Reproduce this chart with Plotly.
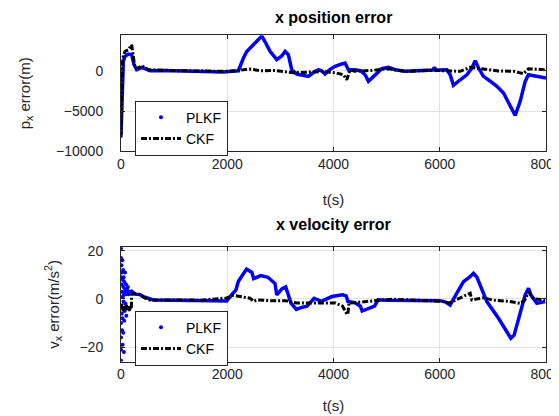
import plotly.graph_objects as go

# x position error, PLKF (blue)
pos_plkf_t = [0, 32, 44, 75, 138, 200, 245, 295, 390, 450, 546, 800, 1100, 1400, 1700, 1927, 2100, 2210,
              2305, 2367, 2492, 2560, 2650, 2720, 2806, 2932, 3020, 3089, 3150, 3214, 3308, 3420, 3527,
              3653, 3720, 3780, 3840, 3930, 4030, 4130, 4218, 4280, 4400, 4510, 4595, 4658, 4752, 4850,
              4909, 5034, 5160, 5348, 5600, 5870, 5900, 5930, 6000, 6133, 6196, 6258, 6380, 6510, 6604,
              6667, 6729, 6823, 6950, 7075, 7200, 7326, 7420, 7514, 7608, 7670, 7766, 7900, 8000]
pos_plkf = [-7940, -1300, 1170, 1790, 2070, 1990, 745, 124, 420, 250, 0, 40, -30, -80, -120, -160, -60, 0,
            1580, 2400, 3230, 3700, 4300, 3500, 2400, 1370, 1800, 2400, 1990, 124, -410, -550, -700,
            -70, 100, 0, -400, 150, 550, 800, 960, 124, 124, 0, -500, -1320, -700, -100,
            250, 420, 124, -70, -30, 100, 420, 50, 100, 124, -500, -1810, -1150, -500, 335,
            1240, 335, -700, -1300, -1940, -2770, -4420, -5540, -3800, -1320, -500, -620, -780, -900]

# x position error, CKF (black)
pos_ckf_t = [0, 25, 32, 75, 138, 200, 264, 327, 390, 515, 800, 1080, 1500, 2020, 2210, 2430, 2618, 2900,
             3250, 3500, 3780, 4030, 4187, 4250, 4313, 4400, 4700, 5030, 5350, 5881, 6258, 6385, 6573,
             6760, 6886, 7100, 7390, 7577, 7670, 7850, 8000]
pos_ckf = [-8300, -1000, 1580, 2400, 2600, 3230, 335, 335, 620, 124, 50, 0, -30, -70, 50, 210, 0, 20,
           -250, -150, -100, -250, -500, -1120, 124, -70, 30, 250, -70, 50, -70, -70, 420,
           250, 124, -20, -70, -370, 250, 200, 124]

# x velocity error, PLKF: scattered start then the track
vel_plkf_noise_t = [0, 0, 0, 0, 0, 0, 0, 0, 8, 12, 15, 18, 20, 22, 25, 28, 30, 33, 35, 38, 40, 42, 45, 48,
                    50, 55, 58, 60, 65, 70, 75, 80, 85, 90, 95, 100, 105, 110, 120, 130, 140, 150]
vel_plkf_noise = [21, 17, 9, -3, -10, -16, -21, -25.5, 14, 6, -6, 11, -13, 3, 16, -8, -19, 8, 1, -4, 12, -14,
                  5, -1, 9, -22, 2, -9, 7, -5, 11, 4, -2, 3, 6, -7, 2, 4, 3, 5, 2, 3]
vel_plkf_t = [170, 200, 263, 358, 420, 514, 608, 1000, 1500, 1990, 2115, 2162, 2210, 2296, 2363, 2464,
              2497, 2631, 2765, 2899, 2932, 3033, 3100, 3200, 3301, 3400, 3501, 3635, 3769, 3970, 4171,
              4238, 4271, 4400, 4506, 4539, 4650, 4773, 4840, 5000, 5500, 6000, 6100, 6196, 6322, 6447,
              6560, 6635, 6700, 6887, 7106, 7263, 7339, 7400, 7483, 7608, 7671, 7720, 7828, 7985]
vel_plkf = [3, 3.2, 2.0, 1.8, 1.0, 0.4, -0.4, -0.5, -0.6, -0.8, 2.5, 3.7, 7.3, 10.4, 12.4, 11,
            8.4, 9.7, 9.0, 6.4, 1.7, 4.3, 5.0, -1.7, -4.3, -3.5, -3.0, 0.3, -1.0, 1.0, 1.7,
            1.3, -1.0, -1.5, -3.0, -5.0, -4.0, -3.0, -0.3, -0.5, -0.6, -0.7, -1.2, -2.5, 2.4, 7.2,
            9.0, 10.6, 9.0, -1.1, -8, -13.5, -16.3, -15, -8, 1.7, 4.4, 1.5, -1.8, -1.1]

# x velocity error, CKF
vel_ckf_t = [0, 20, 40, 60, 80, 100, 120, 140, 160, 180, 195, 200, 263, 358, 450, 514, 1000, 1500, 1990,
             2115, 2300, 2430, 2497, 2556, 2800, 3100, 3301, 3500, 3769, 4037, 4171, 4238, 4271, 4290,
             4439, 4773, 5108, 5778, 6046, 6180, 6380, 6510, 6573, 6604, 6823, 7000, 7265, 7514, 7600,
             7671, 7765, 7985]
vel_ckf = [-4, -2, -5, -3, -5, -2.5, -4.5, -3, -5, -3.5, -4, 1.8, 2.3, 1.8, 0.4, -0.4, -0.4, -0.5, 0.4,
           1.5, 0.8, 0.3, -1.0, -0.4, -0.7, -0.7, -1.7, -1.8, -1.7, -1.7, -3.0, -5.7, -6.4, -1.7,
           -1.4, -0.7, -0.1, -0.7, -1.0, -1.7, 0.3, 1.7, 2.4, -0.4, 0.5, -0.5, -0.9, -1.8, -0.5,
           3.0, 0.1, -0.4]

x_ticks = [0, 2000, 4000, 6000, 8000]
pos_ticks = [-10000, -5000, 0]
vel_ticks = [-20, 0, 20]

# the page body has an 8px margin, so lay out in the visible 551x408 area
OFF = 8
W, H = 559 - OFF, 416 - OFF
BLUE = "#0000ff"
AX = "#262626"
FONT = "Liberation Sans, Arial, sans-serif"
CKF_DASH = "6px,2px,2px,2px"


def px_x(x):
    return (x - OFF) / W


def px_y(y):
    return 1 - (y - OFF) / H


fig = go.Figure()

# top panel
fig.add_trace(go.Scatter(x=pos_plkf_t, y=pos_plkf, mode="lines", line=dict(color=BLUE, width=3.5),
                         showlegend=False, xaxis="x", yaxis="y"))
fig.add_trace(go.Scatter(x=[None], y=[None], mode="markers", name="PLKF", marker=dict(color=BLUE, size=4),
                         legend="legend", xaxis="x", yaxis="y"))
fig.add_trace(go.Scatter(x=pos_ckf_t, y=pos_ckf, mode="lines", name="CKF",
                         line=dict(color="black", width=3, dash=CKF_DASH), legend="legend",
                         xaxis="x", yaxis="y"))

# bottom panel
fig.add_trace(go.Scatter(x=vel_plkf_noise_t, y=vel_plkf_noise, mode="markers", marker=dict(color=BLUE, size=4),
                         showlegend=False, xaxis="x2", yaxis="y2"))
fig.add_trace(go.Scatter(x=vel_plkf_t, y=vel_plkf, mode="lines", line=dict(color=BLUE, width=3.5),
                         showlegend=False, xaxis="x2", yaxis="y2"))
fig.add_trace(go.Scatter(x=[None], y=[None], mode="markers", name="PLKF", marker=dict(color=BLUE, size=4),
                         legend="legend2", xaxis="x2", yaxis="y2"))
fig.add_trace(go.Scatter(x=vel_ckf_t, y=vel_ckf, mode="lines", name="CKF",
                         line=dict(color="black", width=3, dash=CKF_DASH), legend="legend2",
                         xaxis="x2", yaxis="y2"))

xdom = [px_x(121), px_x(546)]
top_dom = [px_y(151.3), px_y(35.3)]
bot_dom = [px_y(361.5), px_y(247.3)]

common_x = dict(range=[0, 8000], tickvals=x_ticks, tickformat="d", showgrid=True, gridcolor="#e3e3e3",
                zeroline=False, showline=True, linecolor=AX, linewidth=1, mirror="ticks", ticks="inside",
                ticklen=4, tickcolor=AX, tickfont=dict(size=14, color=AX), automargin=False,
                ticklabeloverflow="allow")
common_y = dict(showgrid=True, gridcolor="#e3e3e3", zeroline=False, showline=True, linecolor=AX,
                linewidth=1, mirror="ticks", ticks="inside", ticklen=4, tickcolor=AX, tickformat="d",
                tickfont=dict(size=14, color=AX), ticklabelstandoff=14, automargin=False)

legend_style = dict(xanchor="left", yanchor="top", bgcolor="white", bordercolor=AX, borderwidth=1,
                    font=dict(size=14, color="black"), itemwidth=40, tracegroupgap=0)

fig.update_layout(
    width=W, height=H,
    margin=dict(l=0, r=0, t=0, b=0),
    paper_bgcolor="white", plot_bgcolor="white",
    font=dict(family=FONT),
    xaxis=dict(domain=xdom, anchor="y",
               title=dict(text="t(s)", font=dict(size=15, color=AX), standoff=23), **common_x),
    yaxis=dict(domain=top_dom, anchor="x", range=[-10000, 4400], tickvals=pos_ticks,
               title=dict(text="p<sub>x</sub> error(m)", font=dict(size=15, color=AX), standoff=21),
               **common_y),
    xaxis2=dict(domain=xdom, anchor="y2",
                title=dict(text="t(s)", font=dict(size=15, color=AX), standoff=19), **common_x),
    yaxis2=dict(domain=bot_dom, anchor="x2", range=[-25.9, 21.4], tickvals=vel_ticks,
                title=dict(text="v<sub>x</sub> error(m/s<sup>2</sup>)", font=dict(size=15, color=AX),
                           standoff=16),
                **common_y),
    legend=dict(x=px_x(135), y=px_y(100.7), **legend_style),
    legend2=dict(x=px_x(135), y=px_y(310.7), **legend_style),
    annotations=[
        dict(text="<b>x position error</b>", x=px_x(333.5), y=px_y(17), xref="paper", yref="paper",
             yanchor="middle", showarrow=False, font=dict(size=16, color="black")),
        dict(text="<b>x velocity error</b>", x=px_x(333.5), y=px_y(224), xref="paper", yref="paper",
             yanchor="middle", showarrow=False, font=dict(size=16, color="black")),
    ],
)

fig.write_html("out.html")
